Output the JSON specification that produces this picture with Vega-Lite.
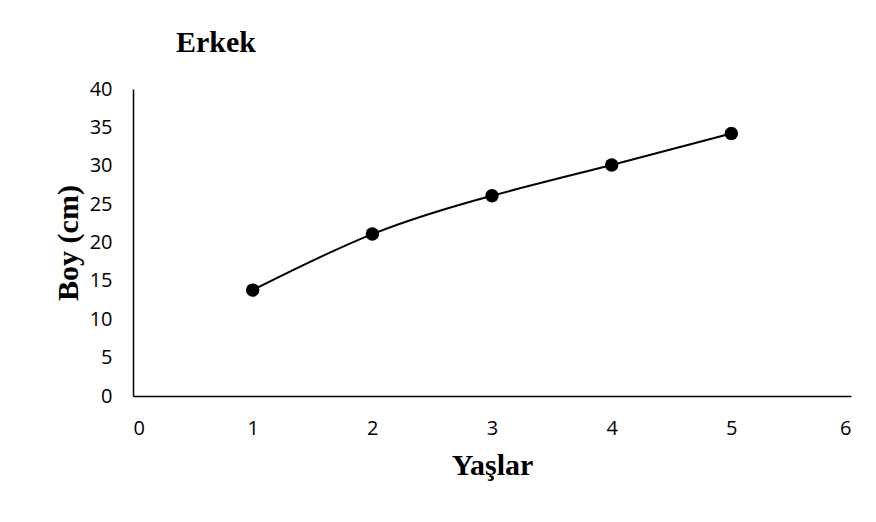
{
  "$schema": "https://vega.github.io/schema/vega-lite/v6.json",
  "width": 718,
  "height": 307,
  "autosize": {"type": "none"},
  "padding": {"left": 133, "top": 89, "right": 25, "bottom": 126},
  "background": "white",
  "title": {
    "text": "Erkek",
    "font": "Liberation Serif",
    "fontSize": 30,
    "fontWeight": "bold",
    "color": "black",
    "anchor": "start",
    "frame": "group",
    "dx": 43,
    "offset": 21
  },
  "config": {
    "view": {"stroke": null},
    "axis": {
      "grid": false,
      "ticks": false,
      "domainColor": "black",
      "domainWidth": 1.5,
      "labelFont": "Open Sans",
      "labelFontSize": 20,
      "labelColor": "black",
      "titleFont": "Liberation Serif",
      "titleFontSize": 30,
      "titleFontWeight": "bold",
      "titleColor": "black"
    }
  },
  "data": {
    "values": [
      {"age": 1, "height": 13.8},
      {"age": 2, "height": 21.1},
      {"age": 3, "height": 26.1},
      {"age": 4, "height": 30.1},
      {"age": 5, "height": 34.2}
    ]
  },
  "encoding": {
    "x": {
      "field": "age",
      "type": "quantitative",
      "scale": {"domain": [0, 6], "nice": false},
      "axis": {"title": "Yaşlar", "values": [0, 1, 2, 3, 4, 5, 6], "labelPadding": 22, "titlePadding": 12}
    },
    "y": {
      "field": "height",
      "type": "quantitative",
      "scale": {"domain": [0, 40], "nice": false},
      "axis": {"title": "Boy (cm)", "values": [0, 5, 10, 15, 20, 25, 30, 35, 40], "labelPadding": 21, "titlePadding": 6}
    }
  },
  "layer": [
    {"mark": {"type": "line", "interpolate": "natural", "color": "black", "strokeWidth": 2}},
    {"mark": {"type": "point", "filled": true, "color": "black", "size": 180, "opacity": 1}}
  ]
}
